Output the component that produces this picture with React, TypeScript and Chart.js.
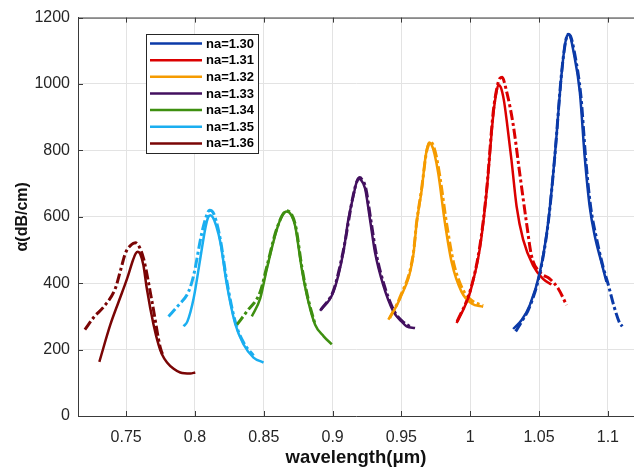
import React, { useEffect, useRef } from 'react';
import { Chart, registerables } from 'chart.js';

Chart.register(...registerables);

const seriesLabels = ['na=1.30', 'na=1.31', 'na=1.32', 'na=1.33', 'na=1.34', 'na=1.35', 'na=1.36'];
const seriesColors = ['#0b3aa8', '#db0000', '#f59b00', '#43105f', '#3e8f10', '#1aaef0', '#7a0505'];

const xTickValues = [0.75, 0.8, 0.85, 0.9, 0.95, 1.0, 1.05, 1.1];
const xTickLabels = ['0.75', '0.8', '0.85', '0.9', '0.95', '1', '1.05', '1.1'];
const yTickValues = [0, 200, 400, 600, 800, 1000, 1200];

// [wavelength (um), alpha (dB/cm)]
const na130Solid = [[1.0312, 262], [1.0375, 290], [1.0433, 334], [1.0506, 433], [1.0566, 582], [1.0614, 780], [1.0663, 1027], [1.0688, 1118], [1.0703, 1145], [1.0716, 1150], [1.073, 1138], [1.0747, 1105], [1.0796, 977], [1.0832, 780], [1.0868, 631], [1.0905, 542], [1.0953, 463], [1.099, 404]];
const na130Dash = [[1.033, 255], [1.0375, 285], [1.0433, 330], [1.0506, 430], [1.0566, 580], [1.0614, 780], [1.0663, 1030], [1.0693, 1128], [1.0712, 1150], [1.0728, 1145], [1.0755, 1100], [1.0805, 960], [1.084, 770], [1.0875, 630], [1.0915, 540], [1.0965, 450], [1.1, 400], [1.1045, 330], [1.1086, 280], [1.1105, 270]];

const na131Solid = [[0.9901, 280], [0.996, 330], [1.0, 374], [1.007, 505], [1.0119, 675], [1.0167, 905], [1.019, 975], [1.0205, 997], [1.0222, 990], [1.0245, 950], [1.0265, 890], [1.03, 770], [1.0337, 631], [1.0384, 532], [1.0457, 453], [1.0529, 413], [1.059, 396]];
const na131Dash = [[0.9905, 285], [1.0, 378], [1.007, 512], [1.0119, 680], [1.0167, 915], [1.0195, 990], [1.0215, 1017], [1.0232, 1020], [1.026, 985], [1.0312, 878], [1.036, 730], [1.0409, 582], [1.0445, 483], [1.0506, 433], [1.0578, 413], [1.0639, 384], [1.07, 334]];

const na132Solid = [[0.9405, 290], [0.949, 354], [0.9586, 483], [0.9611, 582], [0.9647, 680], [0.9675, 780], [0.969, 812], [0.9703, 824], [0.9718, 818], [0.9740, 790], [0.9768, 730], [0.9816, 582], [0.9865, 463], [0.9937, 374], [1.001, 339], [1.0094, 329]];
const na132Dash = [[0.9415, 295], [0.949, 358], [0.9586, 488], [0.9611, 585], [0.9647, 685], [0.968, 790], [0.9698, 818], [0.9712, 826], [0.9728, 818], [0.9752, 785], [0.978, 720], [0.983, 575], [0.988, 460], [0.995, 378], [1.002, 345], [1.0094, 333]];

const na133Solid = [[0.8909, 317], [0.9006, 374], [0.9078, 493], [0.9114, 591], [0.915, 661], [0.9175, 705], [0.9192, 714], [0.9205, 712], [0.9236, 685], [0.9272, 591], [0.9308, 493], [0.9368, 394], [0.9441, 315], [0.95, 285], [0.9538, 270], [0.9599, 265]];
const na133Dash = [[0.8915, 320], [0.9006, 378], [0.9078, 498], [0.915, 665], [0.918, 710], [0.9198, 718], [0.9212, 713], [0.924, 688], [0.9278, 590], [0.9315, 493], [0.9375, 394], [0.9445, 318], [0.95, 288], [0.9575, 266]];

const na134Solid = [[0.8413, 300], [0.8474, 354], [0.8522, 443], [0.8595, 562], [0.8635, 605], [0.8667, 616], [0.87, 605], [0.8728, 572], [0.8776, 443], [0.8824, 344], [0.8873, 275], [0.8935, 240], [0.8994, 216]];
const na134Dash = [[0.8305, 275], [0.8377, 315], [0.8474, 374], [0.8522, 450], [0.8595, 565], [0.8667, 618], [0.873, 575], [0.8776, 450], [0.8824, 350], [0.887, 280]];

const na135Solid = [[0.7917, 270], [0.7945, 285], [0.799, 354], [0.8038, 473], [0.8075, 565], [0.8095, 598], [0.8112, 605], [0.813, 598], [0.8155, 572], [0.8185, 522], [0.8232, 395], [0.8292, 278], [0.8352, 216], [0.8425, 176], [0.8498, 161]];
const na135Dash = [[0.7808, 300], [0.7881, 334], [0.7953, 374], [0.799, 423], [0.805, 552], [0.8085, 605], [0.8105, 620], [0.8122, 618], [0.8145, 600], [0.8185, 530], [0.8232, 405], [0.8292, 285], [0.8352, 222], [0.8425, 182]];

const na136Solid = [[0.7305, 163], [0.7385, 275], [0.7446, 345], [0.7506, 413], [0.755, 470], [0.757, 490], [0.7585, 495], [0.7602, 488], [0.7625, 455], [0.765, 384], [0.7699, 275], [0.7735, 215], [0.776, 186], [0.7797, 161], [0.7845, 142], [0.7893, 131], [0.7966, 128], [0.8002, 131]];
const na136Dash = [[0.72, 260], [0.727, 300], [0.7337, 329], [0.7421, 384], [0.746, 440], [0.7494, 490], [0.7535, 515], [0.7567, 522], [0.7595, 510], [0.7627, 473], [0.7688, 344], [0.7748, 206], [0.777, 180]];

const solidCurves = [na130Solid, na131Solid, na132Solid, na133Solid, na134Solid, na135Solid, na136Solid];
const dashCurves = [na130Dash, na131Dash, na132Dash, na133Dash, na134Dash, na135Dash, na136Dash];

const X_MIN = 0.715;
const X_MAX = 1.119;
const Y_MIN = 0;
const Y_MAX = 1200;

const FONT = 'Arial, "Liberation Sans", Helvetica, sans-serif';
const AXIS_COLOR = '#3a3a3a';
const TEXT_COLOR = '#262626';

const frameLegendPlugin = {
  id: 'frameLegend',
  afterDraw(chart: any) {
    const { ctx, chartArea } = chart;
    const { left, right, top, bottom } = chartArea;
    const xs = chart.scales.x;
    const ys = chart.scales.y;
    ctx.save();
    ctx.strokeStyle = AXIS_COLOR;
    ctx.lineWidth = 1;
    ctx.beginPath();
    ctx.moveTo(left, top + 0.5);
    ctx.lineTo(right, top + 0.5);
    ctx.stroke();
    const tl = 5;
    ctx.beginPath();
    xTickValues.forEach((v) => {
      const px = Math.round(xs.getPixelForValue(v)) + 0.5;
      ctx.moveTo(px, bottom);
      ctx.lineTo(px, bottom - tl);
      ctx.moveTo(px, top);
      ctx.lineTo(px, top + tl);
    });
    yTickValues.forEach((v) => {
      const py = Math.round(ys.getPixelForValue(v)) + 0.5;
      ctx.moveTo(left, py);
      ctx.lineTo(left + tl, py);
    });
    ctx.stroke();

    const bx = 146.5, by = 34.5, bw = 112, bh = 119;
    ctx.fillStyle = '#ffffff';
    ctx.fillRect(bx, by, bw, bh);
    ctx.strokeStyle = '#262626';
    ctx.lineWidth = 1;
    ctx.strokeRect(bx, by, bw, bh);
    ctx.font = `bold 13px ${FONT}`;
    ctx.textBaseline = 'middle';
    ctx.textAlign = 'left';
    seriesLabels.forEach((lab, i) => {
      const y = 43.5 + i * 16.65;
      ctx.strokeStyle = seriesColors[i];
      ctx.lineWidth = 2.5;
      ctx.beginPath();
      ctx.moveTo(150, y);
      ctx.lineTo(202, y);
      ctx.stroke();
      ctx.fillStyle = '#000000';
      ctx.fillText(lab, 206, y + 0.5);
    });
    ctx.restore();
  },
};

export default function App() {
  const canvasRef = useRef<HTMLCanvasElement | null>(null);

  useEffect(() => {
    const canvas = canvasRef.current;
    if (!canvas) return;
    const datasets: any[] = [];
    solidCurves.forEach((pts, i) => {
      datasets.push({
        label: seriesLabels[i],
        data: pts.map(([x, y]) => ({ x, y })),
        borderColor: seriesColors[i],
        backgroundColor: seriesColors[i],
        borderWidth: 2.5,
        pointRadius: 0,
        cubicInterpolationMode: 'monotone',
        fill: false,
      });
    });
    dashCurves.forEach((pts, i) => {
      datasets.push({
        label: seriesLabels[i] + ' (dash)',
        data: pts.map(([x, y]) => ({ x, y })),
        borderColor: seriesColors[i],
        backgroundColor: seriesColors[i],
        borderWidth: 3,
        borderDash: [10, 3, 3, 3],
        pointRadius: 0,
        cubicInterpolationMode: 'monotone',
        fill: false,
      });
    });

    const chart = new Chart(canvas, {
      type: 'line',
      data: { datasets },
      options: {
        animation: false,
        responsive: false,
        maintainAspectRatio: false,
        layout: { padding: { top: 12, right: 0, bottom: 0, left: 0 } },
        plugins: {
          legend: { display: false },
          tooltip: { enabled: false },
        },
        scales: {
          x: {
            type: 'linear',
            min: X_MIN,
            max: X_MAX,
            afterBuildTicks: (scale: any) => {
              scale.ticks = xTickValues.map((v) => ({ value: v }));
            },
            afterFit: (scale: any) => {
              scale.height = 56;
            },
            ticks: {
              autoSkip: false,
              maxRotation: 0,
              padding: 12,
              color: TEXT_COLOR,
              font: { family: FONT, size: 16 },
              callback: (v: any) => {
                const idx = xTickValues.findIndex((t) => Math.abs(t - Number(v)) < 1e-6);
                return idx >= 0 ? xTickLabels[idx] : '';
              },
            },
            grid: { color: '#e3e3e3', lineWidth: 1, drawTicks: false },
            border: { display: true, color: AXIS_COLOR, width: 1 },
            title: {
              display: true,
              text: 'wavelength(\u03bcm)',
              color: '#111111',
              font: { family: FONT, size: 18.5, weight: 'bold' },
              padding: { top: 0, bottom: 3 },
            },
          },
          y: {
            type: 'linear',
            min: Y_MIN,
            max: Y_MAX,
            afterBuildTicks: (scale: any) => {
              scale.ticks = yTickValues.map((v) => ({ value: v }));
            },
            afterFit: (scale: any) => {
              scale.width = 78;
            },
            ticks: {
              padding: 8,
              color: TEXT_COLOR,
              font: { family: FONT, size: 16 },
              callback: (v: any) => String(v),
            },
            grid: { color: '#e3e3e3', lineWidth: 1, drawTicks: false },
            border: { display: true, color: AXIS_COLOR, width: 1 },
            title: {
              display: true,
              text: '\u03b1(dB/cm)',
              color: '#111111',
              font: { family: FONT, size: 16, weight: 'bold' },
              padding: { top: 13, bottom: 0 },
            },
          },
        },
      },
      plugins: [frameLegendPlugin],
    });
    return () => chart.destroy();
  }, []);

  return (
    <div style={{ position: 'fixed', left: 0, top: 0, width: 634, height: 472, background: '#ffffff' }}>
      <canvas ref={canvasRef} width={634} height={472} />
    </div>
  );
}
